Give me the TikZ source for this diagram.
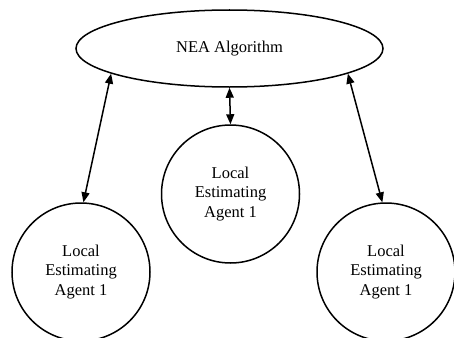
\documentclass[tikz,border=0pt]{standalone}
\usepackage{fontspec}
\setmainfont{Liberation Serif}
\usetikzlibrary{shapes.geometric,arrows.meta}
\tikzset{
  every node/.style={font=\fontsize{16.5}{19.5}\selectfont},
  agent/.style={draw, circle, minimum size=138pt, inner sep=0pt, align=center, line width=1.5pt},
  algo/.style={draw, ellipse, minimum width=307pt, minimum height=77pt, inner sep=0pt, line width=1.5pt},
  link/.style={{Triangle[length=10pt,width=8pt]}-{Triangle[length=10pt,width=8pt]}, line width=1.5pt}
}
\begin{document}
\begin{tikzpicture}[x=1pt,y=-1pt]
\clip (0,0) rectangle (454,337);
\fill[white] (0,0) rectangle (454,337);
\node[algo] (nea) at (229.5,48.5) {NEA Algorithm};
\node[agent] (m) at (230.5,194) {Local\\Estimating\\Agent 1};
\node[agent] (l) at (81,272) {Local\\Estimating\\Agent 1};
\node[agent] (r) at (386,272) {Local\\Estimating\\Agent 1};
\draw[link] (nea.south) -- (m.north);
\draw[link] (l.88) -- (nea.192.6);
\draw[link] (r.93.3) -- (nea.348.3);
\end{tikzpicture}
\end{document}
